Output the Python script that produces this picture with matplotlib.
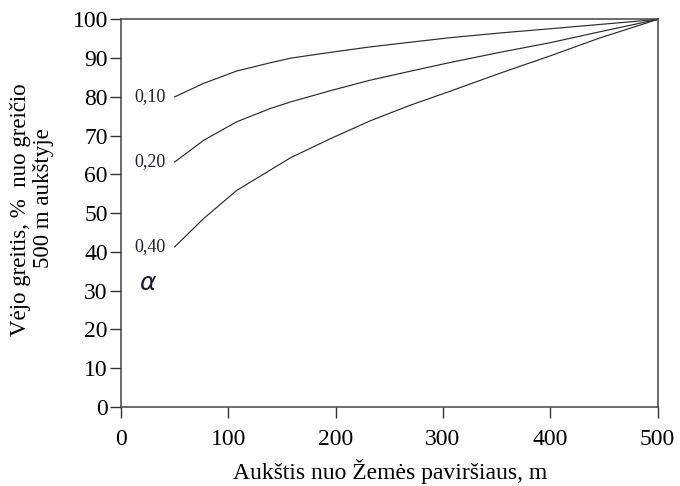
import matplotlib.pyplot as plt

# wind speed profiles, % of speed at 500 m, for three roughness exponents
alphas = ["0,10", "0,20", "0,40"]
heights = [50, 77, 108, 139, 158, 195, 232, 269, 307, 353, 400, 446, 500]
v_010 = [80.0, 83.5, 86.7, 88.8, 90.0, 91.5, 92.9, 94.1, 95.3, 96.5, 97.6, 98.7, 100]
v_020 = [63.2, 68.8, 73.6, 77.0, 78.7, 81.6, 84.3, 86.6, 88.9, 91.5, 94.0, 96.8, 100]
v_040 = [41.3, 48.6, 55.9, 61.1, 64.3, 69.2, 73.8, 77.8, 81.5, 86.1, 90.6, 95.2, 100]

x_ticks = [0, 100, 200, 300, 400, 500]
y_ticks = list(range(0, 101, 10))

plt.rcParams['font.family'] = ['Liberation Serif', 'DejaVu Serif']

fig = plt.figure(figsize=(6.8, 4.86), dpi=100)
ax = fig.add_axes([0.178, 0.163, 0.789, 0.797])

for v, a in zip([v_010, v_020, v_040], alphas):
    ax.plot(heights, v, color='#2b2b2b', lw=0.85)
    ax.text(heights[0] - 8, v[0], a, ha='right', va='center', fontsize=13, color='#1f1f3a')

ax.text(25, 32, r'$\alpha$', fontsize=18, ha='center', va='center',
        family='DejaVu Sans', color='#1a1a33')

ax.set_xlim(0, 500)
ax.set_ylim(0, 100)
ax.set_xticks(x_ticks)
ax.set_yticks(y_ticks)
ax.tick_params(direction='out', length=8, width=1, labelsize=17, color='#333333')
ax.tick_params(axis='y', pad=1.5)
ax.tick_params(axis='x', pad=8)

for s in ax.spines.values():
    s.set_color('#444444')
    s.set_linewidth(1.1)

# axis titles placed by hand in figure pixels
fig.text(390 / 680, 1 - 479 / 486, 'Aukštis nuo Žemės paviršiaus, m',
         ha='center', va='baseline', fontsize=17)
fig.text(21 / 680, 1 - 210 / 486, 'Vėjo greitis, %  nuo greičio', rotation=90,
         ha='center', va='center', fontsize=16.5)
fig.text(43 / 680, 1 - 198 / 486, '500 m aukštyje', rotation=90,
         ha='center', va='center', fontsize=16.5)

fig.savefig('out.png', dpi=100)
